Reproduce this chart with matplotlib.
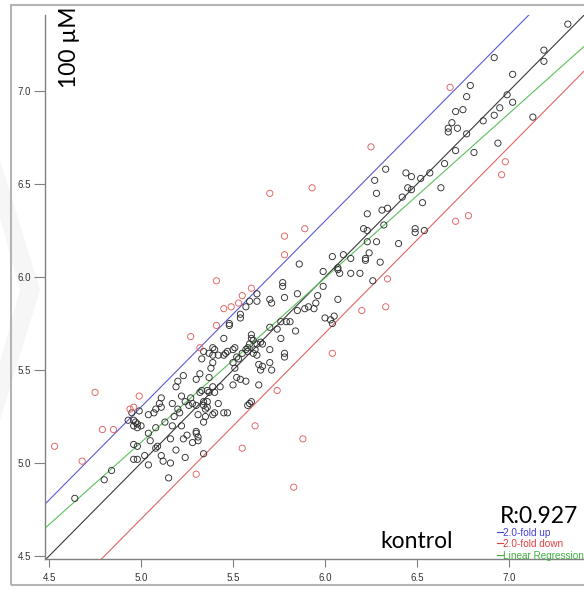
import matplotlib
matplotlib.use('Agg')
import matplotlib.pyplot as plt
import numpy as np
from matplotlib.patches import Rectangle, Polygon
from matplotlib.lines import Line2D

# (kontrol, 100 uM) pairs
black_pts = [
    (4.64, 4.81), (4.80, 4.91), (4.84, 4.96), (4.96, 5.02), (4.98, 5.02), (4.96, 5.10),
    (4.98, 5.09), (5.04, 4.99), (5.02, 5.04), (5.05, 5.12), (5.04, 5.16), (5.08, 5.08),
    (5.09, 5.09), (5.11, 5.04), (5.12, 5.01), (5.15, 4.92), (4.93, 5.23), (4.96, 5.23),
    (4.97, 5.22), (5.00, 5.20), (4.98, 5.19), (4.96, 5.20), (4.98, 5.21), (4.99, 5.28),
    (4.95, 5.27), (5.04, 5.26), (5.07, 5.27), (5.08, 5.29), (5.11, 5.30), (5.10, 5.32),
    (5.08, 5.19), (5.13, 5.22), (5.11, 5.35), (5.16, 5.13), (5.16, 5.00),
    (5.64, 5.53), (5.66, 5.52), (5.65, 5.50), (5.70, 5.54), (5.71, 5.50), (5.50, 5.54),
    (5.51, 5.51), (5.52, 5.46), (5.54, 5.45), (5.57, 5.44), (5.50, 5.42), (5.64, 5.42),
    (5.39, 5.54), (5.38, 5.51), (5.32, 5.48), (5.30, 5.45), (5.23, 5.47), (5.20, 5.44),
    (5.19, 5.41), (5.37, 5.46), (5.39, 5.41), (5.43, 5.41), (5.40, 5.38), (5.37, 5.38),
    (5.36, 5.39), (5.33, 5.39), (5.32, 5.38), (5.22, 5.36), (5.27, 5.35), (5.17, 5.32),
    (5.24, 5.33), (5.26, 5.31), (5.28, 5.32), (5.34, 5.33), (5.34, 5.31), (5.36, 5.33),
    (5.42, 5.32), (5.30, 5.31), (5.35, 5.29), (5.36, 5.30), (5.31, 5.26), (5.39, 5.26),
    (5.40, 5.27), (5.35, 5.25), (5.34, 5.22), (5.45, 5.27), (5.47, 5.27), (5.58, 5.31),
    (5.59, 5.32), (5.60, 5.33), (5.20, 5.29), (5.21, 5.27), (5.18, 5.25), (5.17, 5.20),
    (5.22, 5.20), (5.30, 5.17), (5.31, 5.14), (5.31, 5.12), (5.30, 5.16), (5.25, 5.15),
    (5.23, 5.13), (5.28, 5.11), (5.19, 5.07), (5.24, 5.03), (5.34, 5.05),
    (5.86, 6.07), (5.77, 5.97), (5.77, 5.95), (5.85, 5.91), (5.78, 5.89), (5.63, 5.91),
    (5.63, 5.87), (5.59, 5.87), (5.70, 5.88), (5.71, 5.86), (5.57, 5.84), (5.54, 5.80),
    (5.54, 5.78), (5.48, 5.75), (5.48, 5.74), (5.45, 5.67), (5.60, 5.69), (5.60, 5.67),
    (5.61, 5.66), (5.70, 5.73), (5.74, 5.72), (5.76, 5.76), (5.79, 5.76), (5.81, 5.76),
    (5.84, 5.71), (5.85, 5.82), (5.89, 5.83), (5.76, 5.67), (5.58, 5.62), (5.59, 5.64),
    (5.63, 5.64), (5.65, 5.65), (5.66, 5.64), (5.70, 5.61), (5.62, 5.61), (5.57, 5.61),
    (5.55, 5.59), (5.51, 5.62), (5.50, 5.61), (5.47, 5.60), (5.39, 5.62), (5.40, 5.61),
    (5.34, 5.60), (5.33, 5.56), (5.37, 5.59), (5.39, 5.58), (5.42, 5.58), (5.45, 5.58),
    (5.46, 5.59), (5.52, 5.57), (5.53, 5.56), (5.58, 5.60), (5.61, 5.59), (5.63, 5.58),
    (5.78, 5.59), (5.78, 5.57),
    (6.28, 6.45), (6.42, 6.43), (6.53, 6.40), (6.23, 6.34), (6.31, 6.36), (6.34, 6.37),
    (6.32, 6.28), (6.21, 6.26), (6.23, 6.25), (6.49, 6.26), (6.49, 6.24), (6.54, 6.25),
    (6.23, 6.19), (6.28, 6.19), (6.40, 6.18), (6.24, 6.13), (6.10, 6.12), (6.04, 6.11),
    (6.14, 6.10), (6.22, 6.10), (6.22, 6.09), (6.30, 6.08), (6.07, 6.05), (6.07, 6.04),
    (6.08, 6.02), (5.99, 6.03), (6.14, 6.02), (6.19, 6.02), (6.26, 5.98), (5.99, 5.95),
    (5.96, 5.90), (6.07, 5.88), (5.95, 5.86), (5.91, 5.84), (5.94, 5.83), (6.00, 5.78),
    (6.03, 5.77), (6.05, 5.79), (6.04, 5.75),
    (7.32, 7.36), (7.19, 7.22), (7.19, 7.16), (6.92, 7.18), (7.02, 7.09), (6.79, 7.03),
    (6.77, 6.97), (6.75, 6.90), (6.71, 6.89), (6.69, 6.83), (6.67, 6.80), (6.67, 6.78),
    (6.72, 6.80), (6.77, 6.77), (6.86, 6.84), (6.92, 6.87), (6.95, 6.91), (6.99, 6.98),
    (7.02, 6.94), (7.13, 6.86), (6.94, 6.72), (6.81, 6.67), (6.71, 6.68), (6.65, 6.61),
    (6.57, 6.56), (6.52, 6.53), (6.47, 6.54), (6.44, 6.56), (6.45, 6.48), (6.47, 6.47),
    (6.63, 6.48), (6.33, 6.58), (6.27, 6.52),
]

# outliers beyond 2-fold (red)
red_pts = [
    (4.53, 5.09), (4.68, 5.01), (4.75, 5.38), (4.79, 5.18), (4.85, 5.18), (4.94, 5.29),
    (4.96, 5.30), (4.99, 5.36), (5.27, 5.68), (5.32, 5.62), (5.30, 4.94), (5.41, 5.74),
    (5.45, 5.83), (5.49, 5.84), (5.53, 5.86), (5.55, 5.90), (5.60, 5.94), (5.41, 5.98),
    (5.55, 5.08), (5.62, 5.20), (5.74, 5.39), (5.83, 4.87), (5.88, 5.13), (5.78, 6.12),
    (5.78, 6.22), (5.70, 6.45), (5.89, 6.26), (5.93, 6.48), (6.25, 6.70), (6.68, 7.02),
    (6.20, 5.82), (6.33, 5.84), (6.04, 5.59), (6.34, 5.99), (6.71, 6.30), (6.78, 6.33),
    (6.96, 6.55), (6.98, 6.62),
]

FOLD = 2.0
REG_SLOPE = 0.884
REG_INTERCEPT = 0.691
R_VALUE = 0.927

ticks = [4.5, 5.0, 5.5, 6.0, 6.5, 7.0]
legend_labels = ['2.0-fold up', '2.0-fold down', 'Linear Regression']

W, H = 584, 590
fig = plt.figure(figsize=(W / 100, H / 100), dpi=100)
fig.patch.set_facecolor('white')

# faint watermark chevron on the left
chev = [(0, 160), (40, 290), (0, 420), (0, 362), (20, 290), (0, 218)]
fig.add_artist(Polygon([(x / W, 1 - y / H) for x, y in chev], closed=True,
                       facecolor='#f6f6f6', edgecolor='none', transform=fig.transFigure, zorder=0))

# grey frame around the figure (cut off on the right)
fig.add_artist(Rectangle((11 / W, 5 / H), 1.2, 580 / H, fill=False, edgecolor='#b4b4b4',
                         linewidth=1.5, transform=fig.transFigure, zorder=0))

ax = fig.add_axes([45 / W, 31 / H, 539 / W, 544 / H])
ax.patch.set_alpha(0)

xx = np.array([4.3, 7.6])
off = np.log10(FOLD)
ax.plot(xx, xx, color='#3a3a3a', lw=0.8, zorder=2)
ax.plot(xx, xx + off, color='#5a5ad8', lw=0.8, zorder=2)
ax.plot(xx, xx - off, color='#e26464', lw=0.8, zorder=2)
ax.plot(xx, REG_INTERCEPT + REG_SLOPE * xx, color='#5dbf5d', lw=0.8, zorder=2)

bx, by = zip(*black_pts)
rx, ry = zip(*red_pts)
ax.scatter(bx, by, s=20, facecolors='none', edgecolors='#2e2e2e', linewidths=0.65, zorder=3)
ax.scatter(rx, ry, s=20, facecolors='none', edgecolors='#e06060', linewidths=0.65, zorder=3)

ax.set_xlim(4.478, 7.408)
ax.set_ylim(4.484, 7.409)
ax.set_xticks(ticks)
ax.set_yticks(ticks)
ax.set_xticklabels([f'{t:.1f}' for t in ticks])
ax.set_yticklabels([f'{t:.1f}' for t in ticks])
for s in ['top', 'right']:
    ax.spines[s].set_visible(False)
for s in ['left', 'bottom']:
    ax.spines[s].set_color('#808080')
    ax.spines[s].set_linewidth(1.0)
ax.tick_params(axis='y', length=8, width=0.8, color='#808080', labelsize=7, labelcolor='#333333', pad=2)
ax.tick_params(axis='x', length=6, width=0.8, color='#808080', labelsize=7, labelcolor='#333333', pad=4)
for lab in ax.get_xticklabels() + ax.get_yticklabels():
    lab.set_family('Liberation Sans')

# axis titles and R value
fig.text(69 / W, 1 - 47 / H, '100 µM', rotation=90, ha='center', va='center', fontsize=16.5, family='Lato')
fig.text(417 / W, 1 - 548 / H, 'kontrol', ha='center', va='baseline', fontsize=16.5, family='Lato')
fig.text(500 / W, 1 - 523 / H, f'R:{R_VALUE}', ha='left', va='baseline', fontsize=16.5, family='Lato')

# small legend
leg_colors = ['#4040d0', '#e04040', '#40b040']
for i, (lab, c) in enumerate(zip(legend_labels, leg_colors)):
    yc = 533 + i * 11.3
    fig.add_artist(Line2D([497 / W, 503 / W], [1 - (yc - 1) / H] * 2, color=c, lw=0.8,
                          transform=fig.transFigure))
    fig.text(503 / W, 1 - yc / H, lab, ha='left', va='center', fontsize=7.2, color=c,
             family='Liberation Sans')

fig.savefig('out.png', dpi=100)
